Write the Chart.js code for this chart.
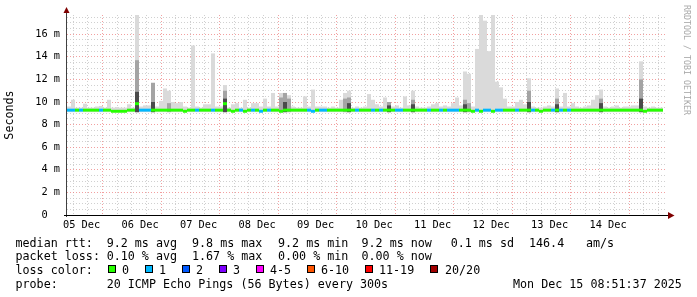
<!DOCTYPE html>
<html>
<head>
<meta charset="utf-8">
<script src="https://cdn.jsdelivr.net/npm/chart.js@4.4.1/dist/chart.umd.min.js"></script>
<style>
html, body { margin: 0; padding: 0; background: #fff; }
#wrap { position: relative; width: 697px; height: 297px; overflow: hidden; background: #fff; }
#c { position: absolute; left: 0; top: 0; }
.t { position: absolute; font: 11.7px "DejaVu Sans Mono", monospace; line-height: 14px; white-space: pre; color: #000; }
.sw { position: absolute; width: 6px; height: 6px; border: 1px solid #000; }
#wm { position: absolute; left: 692px; top: 5px; font: 8.3px "DejaVu Sans Mono", monospace; line-height: 10px;
      color: #a8a8a8; white-space: pre; transform-origin: 0 0; transform: rotate(90deg); }
</style>
</head>
<body>
<div id="wrap">
  <canvas id="c" width="697" height="297"></canvas>
  <div id="wm">RRDTOOL / TOBI OETIKER</div>
</div>
<script>
// ---- data (one bin = 4 px = 96 min) ----
const dayLabels = ["05 Dec","06 Dec","07 Dec","08 Dec","09 Dec","10 Dec","11 Dec","12 Dec","13 Dec","14 Dec"];
const yLabels = ["0  ","2 m","4 m","6 m","8 m","10 m","12 m","14 m","16 m"];

// top of the smoke (ms) per bin
const smokeHi = [
  9.6, 10.2, 9.5, 9.5, 9.85, 9.5, 9.5, 9.6, 9.65, 9.5,
  10.2, 9.5, 9.55, 9.5, 9.5, 9.8, 9.5, 17.7, 9.6, 9.7,
  9.7, 11.7, 9.6, 10.1, 11.2, 11.0, 10.0, 9.9, 10.0, 9.6,
  9.5, 15.0, 9.6, 9.5, 9.8, 9.8, 14.3, 9.6, 9.6, 11.5,
  9.5, 9.8, 9.9, 9.5, 10.2, 9.5, 9.9, 9.9, 9.6, 10.3,
  9.6, 10.8, 9.6, 10.8, 10.8, 10.6, 9.6, 9.5, 9.5, 10.5,
  9.6, 11.1, 9.6, 9.6, 9.6, 9.5, 9.6, 9.5, 10.2, 10.8,
  11.0, 9.5, 9.6, 9.5, 9.6, 10.7, 10.2, 9.8, 9.6, 10.4,
  10.0, 9.6, 9.7, 9.5, 10.5, 9.7, 11.0, 9.6, 9.5, 9.5,
  9.6, 9.8, 9.9, 9.6, 9.7, 9.6, 9.9, 10.4, 9.7, 12.7,
  12.5, 9.6, 14.7, 17.7, 17.2, 14.5, 17.7, 11.8, 11.3, 10.3,
  9.6, 9.6, 10.0, 10.2, 9.8, 12.1, 9.6, 9.5, 9.5, 9.6,
  9.7, 9.6, 11.2, 9.6, 10.8, 9.6, 9.9, 9.6, 9.5, 9.6,
  9.7, 10.2, 10.6, 11.1, 9.6, 9.5, 9.6, 9.7, 9.5, 9.6,
  9.6, 9.7, 9.7, 13.6, 9.6, 9.5, 9.6, 9.5, 9.5, null
];
const smokeLow = 9.1;
// denser smoke inside some spikes: [bin, top ms]
const midSmoke = [[17,13.7],[21,11.7],[25,9.9],[39,11.0],[53,10.4],[54,10.8],[55,10.3],[69,10.3],[70,10.4],
  [80,10.0],[86,10.2],[99,10.2],[100,9.9],[115,11.0],[122,10.3],[133,10.3],[143,12.0]];
const darkSmoke = [[17,10.9],[21,10.0],[39,10.3],[54,10.0],[70,9.9],[80,9.7],[86,9.8],[99,9.8],
  [115,10.0],[122,9.8],[133,9.9],[143,10.3]];

// median rtt (ms) per bin
const medianRtt = [
  9.28, 9.28, 9.28, 9.28, 9.28, 9.28, 9.28, 9.28, 9.28, 9.28,
  9.28, 9.18, 9.18, 9.18, 9.18, 9.28, 9.28, 9.85, 9.28, 9.28,
  9.28, 9.28, 9.28, 9.28, 9.28, 9.28, 9.28, 9.28, 9.28, 9.18,
  9.28, 9.28, 9.28, 9.28, 9.28, 9.28, 9.28, 9.28, 9.28, 9.85,
  9.28, 9.18, 9.28, 9.28, 9.18, 9.28, 9.28, 9.28, 9.18, 9.28,
  9.28, 9.28, 9.28, 9.18, 9.28, 9.28, 9.28, 9.28, 9.28, 9.28,
  9.28, 9.18, 9.28, 9.28, 9.28, 9.28, 9.28, 9.28, 9.28, 9.28,
  9.28, 9.28, 9.28, 9.28, 9.28, 9.28, 9.28, 9.28, 9.28, 9.28,
  9.28, 9.28, 9.28, 9.28, 9.28, 9.28, 9.28, 9.28, 9.28, 9.28,
  9.28, 9.28, 9.28, 9.28, 9.28, 9.28, 9.28, 9.28, 9.28, 9.28,
  9.28, 9.18, 9.28, 9.18, 9.28, 9.28, 9.18, 9.28, 9.28, 9.28,
  9.28, 9.28, 9.28, 9.28, 9.28, 9.28, 9.28, 9.28, 9.18, 9.28,
  9.28, 9.28, 9.28, 9.28, 9.28, 9.28, 9.28, 9.28, 9.28, 9.28,
  9.28, 9.28, 9.28, 9.28, 9.28, 9.28, 9.28, 9.28, 9.28, 9.28,
  9.28, 9.28, 9.28, 9.28, 9.18, 9.28, 9.28, 9.28, 9.28, null
];
// loss colour class per bin (index into lossColors)
const lossCode = [
  1,1,0,1,0,0,0,0,1,0,
  0,0,0,0,0,0,0,0,1,1,
  1,0,0,0,0,0,0,0,0,0,
  0,0,1,0,0,0,1,0,0,0,
  0,0,0,1,0,0,1,0,1,0,
  1,0,0,0,0,0,0,0,0,0,
  1,1,0,1,1,0,0,0,0,0,
  0,0,1,0,0,0,1,0,1,0,
  0,0,1,1,0,0,0,0,0,0,
  1,0,0,1,0,1,1,1,0,0,
  0,0,1,0,1,1,0,1,1,0,
  0,0,1,0,0,0,1,0,0,0,
  0,1,0,1,0,1,0,0,0,0,
  0,0,0,0,0,0,0,0,0,0,
  0,0,0,0,0,0,0,0,0,0
];
const lossLabels = ["0","1","2","3","4-5","6-10","11-19","20/20"];
const lossColors = ["#26ff00","#00b8ff","#0059ff","#7e00ff","#ff00ff","#ff5500","#ff0000","#a10000"];

// ---- build datasets ----
const binLabels = smokeHi.map((_, i) => i);
const lightData = smokeHi.map(v => v == null ? null : [smokeLow, v]);
const midData = smokeHi.map(() => null);
midSmoke.forEach(([i, v]) => { midData[i] = [smokeLow, v]; });
const darkData = smokeHi.map(() => null);
darkSmoke.forEach(([i, v]) => { darkData[i] = [smokeLow, v]; });
const medData = medianRtt.map(v => v == null ? null : [v - 0.13, v + 0.13]);
const medColors = lossCode.map(c => lossColors[c]);

const barBase = { xAxisID: "xc", grouped: false, categoryPercentage: 1, barPercentage: 1, borderWidth: 0, inflateAmount: 0 };

// axis ticks: every 6 h, midnight of 06 Dec sits 14.5 h after the left edge
const HOUR0 = 14.5;
const xTicks = [];
for (let h = HOUR0 - 12; h < 240; h += 6) xTicks.push(h);
const yTicks = [];
for (let v = 0; v <= 17.5; v += 0.5) yTicks.push(v);

const GRID = "rgba(200,200,200,0.85)";
const MGRID = "rgba(236,120,120,0.7)";
const MONO = "'DejaVu Sans Mono', monospace";

const axesPlugin = {
  id: "rrdAxes",
  afterDatasetsDraw(chart) {
    const { ctx, chartArea: a } = chart;
    ctx.save();
    ctx.lineWidth = 1;
    ctx.strokeStyle = "#404040";
    ctx.beginPath(); ctx.moveTo(a.left - 0.5, a.bottom + 2); ctx.lineTo(a.left - 0.5, a.top - 2); ctx.stroke();
    ctx.strokeStyle = "#000";
    ctx.beginPath(); ctx.moveTo(a.left - 3, a.bottom + 0.5); ctx.lineTo(a.right + 1, a.bottom + 0.5); ctx.stroke();
    ctx.fillStyle = "#7f0000";
    ctx.beginPath(); ctx.moveTo(a.left - 3.5, a.top - 2); ctx.lineTo(a.left + 2.5, a.top - 2); ctx.lineTo(a.left - 0.5, a.top - 8); ctx.closePath(); ctx.fill();
    ctx.beginPath(); ctx.moveTo(a.right + 1, a.bottom - 3); ctx.lineTo(a.right + 1, a.bottom + 4); ctx.lineTo(a.right + 7.5, a.bottom + 0.5); ctx.closePath(); ctx.fill();
    ctx.restore();
  }
};

new Chart(document.getElementById("c"), {
  type: "bar",
  data: {
    labels: binLabels,
    datasets: [
      Object.assign({ label: "median", data: medData, backgroundColor: medColors, order: 0 }, barBase),
      Object.assign({ label: "dark", data: darkData, backgroundColor: "#4a4a4a", order: 1 }, barBase),
      Object.assign({ label: "mid", data: midData, backgroundColor: "#a4a4a4", order: 2 }, barBase),
      Object.assign({ label: "smoke", data: lightData, backgroundColor: "#dadada", order: 3 }, barBase)
    ]
  },
  options: {
    responsive: false,
    animation: false,
    devicePixelRatio: 1,
    layout: { padding: { top: 15, right: 30, left: 0, bottom: 0 } },
    plugins: { legend: { display: false }, tooltip: { enabled: false } },
    scales: {
      xc: { type: "category", display: false, offset: true },
      x: {
        type: "linear", position: "bottom", min: 0, max: 240,
        afterBuildTicks: s => { s.ticks = xTicks.map(v => ({ value: v })); },
        afterFit: s => { s.height = 82; },
        grid: { drawTicks: false, color: c => (c.tick && (c.tick.value - HOUR0) % 24 === 0) ? MGRID : GRID },
        border: { display: false, dash: [1, 2] },
        ticks: {
          autoSkip: false, maxRotation: 0, padding: 4, labelOffset: 1, color: "#000",
          font: { family: MONO, size: 10.3 },
          callback: v => {
            const k = (v - (HOUR0 - 12)) / 24;
            return Number.isInteger(k) && dayLabels[k] ? dayLabels[k] : "";
          }
        }
      },
      y: {
        min: 0, max: 17.7,
        afterBuildTicks: s => { s.ticks = yTicks.map(v => ({ value: v })); },
        afterFit: s => { s.width = 67; },
        grid: { drawTicks: false, color: c => (c.tick && c.tick.value % 2 === 0) ? MGRID : GRID },
        border: { display: false, dash: [1, 2] },
        ticks: {
          autoSkip: false, padding: 7, color: "#000",
          font: { family: MONO, size: 10.3 },
          callback: v => (v % 2 === 0 ? yLabels[v / 2] : "")
        },
        title: { display: true, text: "Seconds", color: "#000", font: { family: MONO, size: 11.7 }, padding: { top: 3, bottom: 0 } }
      }
    }
  },
  plugins: [axesPlugin]
});

// ---- legend block under the graph ----
const wrap = document.getElementById("wrap");
function addText(txt, x, top) {
  const s = document.createElement("span");
  s.className = "t"; s.textContent = txt;
  s.style.left = x + "px"; s.style.top = top + "px";
  wrap.appendChild(s);
}
[["median rtt:", 15.5], ["9.2 ms avg", 106.7], ["9.8 ms max", 192], ["9.2 ms min", 278], ["9.2 ms now", 361.5],
 ["0.1 ms sd", 450.7], ["146.4", 529], ["am/s", 586]].forEach(([t, x]) => addText(t, x, 235.5));
[["packet loss:", 15.5], ["0.10 % avg", 106.7], ["1.67 % max", 192], ["0.00 % min", 278], ["0.00 % now", 361.5]]
  .forEach(([t, x]) => addText(t, x, 248.5));
addText("loss color:", 15.5, 262.5);
const swX = [108, 145, 182, 219, 256, 307, 365, 430];
const swLabelX = [122, 159, 196, 233, 270, 321, 379, 445];
lossLabels.forEach((lab, i) => {
  const b = document.createElement("div");
  b.className = "sw"; b.style.left = swX[i] + "px"; b.style.top = "265px"; b.style.background = lossColors[i];
  wrap.appendChild(b);
  addText(lab, swLabelX[i], 262.5);
});
[["probe:", 15.5], ["20 ICMP Echo Pings (56 Bytes) every 300s", 106.7], ["Mon Dec 15 08:51:37 2025", 513]]
  .forEach(([t, x]) => addText(t, x, 276.5));
</script>
</body>
</html>
